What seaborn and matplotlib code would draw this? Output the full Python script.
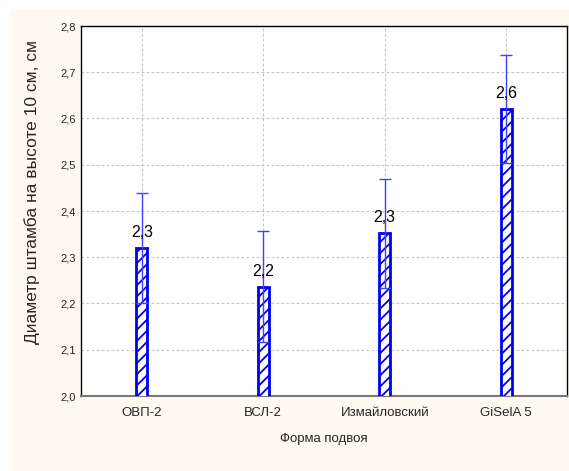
import matplotlib
matplotlib.use("Agg")
import matplotlib.pyplot as plt
import seaborn as sns
import pandas as pd
from matplotlib.patches import Rectangle

categories = ["ОВП-2", "ВСЛ-2", "Измайловский", "GiSelA 5"]
means = [2.32, 2.236, 2.352, 2.62]
errors = [0.119, 0.12, 0.118, 0.117]
labels = ["2,3", "2,2", "2,3", "2,6"]
yticks = [2.0, 2.1, 2.2, 2.3, 2.4, 2.5, 2.6, 2.7, 2.8]
yticklabels = ["2,0", "2,1", "2,2", "2,3", "2,4", "2,5", "2,6", "2,7", "2,8"]

sns.set_style("white")
plt.rcParams["font.family"] = ["Liberation Sans", "DejaVu Sans"]
plt.rcParams["hatch.color"] = "#0000EE"
plt.rcParams["hatch.linewidth"] = 1.3

fig = plt.figure(figsize=(5.69, 4.71), dpi=100)
fig.patch.set_facecolor("white")
fig.patches.append(Rectangle((10 / 569, 0), 1 - 10 / 569, (471 - 9) / 471,
                             transform=fig.transFigure, facecolor="#FFFAF0",
                             edgecolor="none", zorder=-10))
ax = fig.add_axes([81 / 569, (471 - 396) / 471, (567 - 81) / 569, (396 - 26) / 471])
ax.set_facecolor("white")

df = pd.DataFrame({"cat": categories, "val": means})
sns.barplot(data=df, x="cat", y="val", ax=ax, width=0.09, color="white",
            edgecolor="#0000EE", linewidth=2, errorbar=None, zorder=3)
for p in ax.patches:
    p.set_hatch("///")
    p.set_facecolor("white")

xs = list(range(len(categories)))
ax.errorbar(xs, means, yerr=errors, fmt="none", ecolor="#4040FF", elinewidth=1,
            capsize=4.5, capthick=1, zorder=4)
for x, m, t in zip(xs, means, labels):
    ax.text(x, m + 0.018, t, ha="center", va="bottom", fontsize=11.5, color="black", zorder=5)

ax.set_ylim(2.0, 2.8)
ax.set_xlim(-0.5, 3.5)
ax.set_yticks(yticks)
ax.set_yticklabels(yticklabels, fontsize=8)
ax.tick_params(axis="x", labelsize=9.5, length=0, pad=8)
ax.tick_params(axis="y", length=0, pad=4)
ax.grid(True, color="#C4C4C4", linestyle=(0, (2.5, 2)), linewidth=0.8, zorder=0)
ax.set_axisbelow(True)
for s in ["left", "top", "right"]:
    ax.spines[s].set_color("black")
    ax.spines[s].set_linewidth(1)
ax.spines["bottom"].set_color("#777777")
ax.spines["bottom"].set_linewidth(1.5)
ax.set_xlabel("Форма подвоя", fontsize=9.5, labelpad=10)
ax.set_ylabel("Диаметр штамба на высоте 10 см, см", fontsize=12.5, labelpad=12)
ax.yaxis.set_label_coords(-0.084, 0.55)

fig.savefig("out.png", dpi=100, facecolor=fig.get_facecolor())
